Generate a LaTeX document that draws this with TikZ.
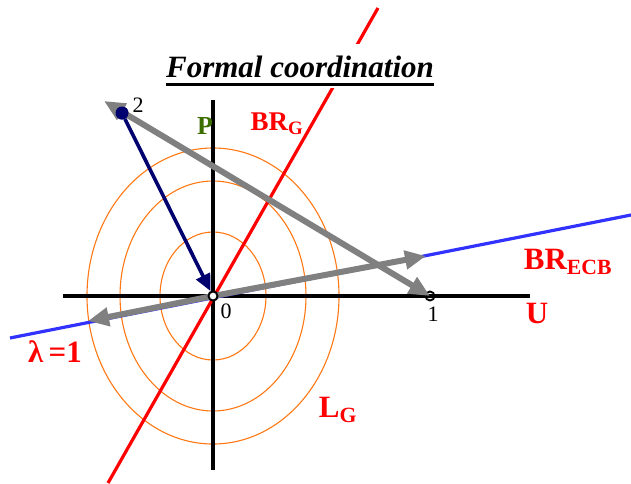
\documentclass[tikz,border=0pt]{standalone}
\usepackage{fontspec}
\setmainfont{Liberation Serif}
\usetikzlibrary{arrows.meta}
\definecolor{navy}{RGB}{0,0,110}
\definecolor{pgreen}{RGB}{60,110,0}
\definecolor{ecbblue}{RGB}{50,50,255}
\definecolor{lorange}{RGB}{255,120,20}
\definecolor{mgray}{RGB}{128,128,128}
\tikzset{>=Stealth,
  axis/.style={line width=3.2pt},
  brline/.style={line width=3.2pt},
  move/.style={line width=6pt,mgray,-{Triangle[length=21pt,width=18pt]}},
  lg/.style={lorange,line width=1.1pt},
  pt/.style={circle,draw,line width=1.9pt,minimum size=9pt,inner sep=0pt},
  lab/.style={font=\fontsize{31}{31}\selectfont\bfseries,text=red},
  num/.style={font=\fontsize{22}{22}\selectfont}}

\begin{document}
\begin{tikzpicture}[x=1pt,y=-1pt]
\useasboundingbox (0,0) rectangle (631,483);
% indifference curves
\coordinate (o) at (213,296);
\draw[lg] (o) ellipse [x radius=53pt,y radius=64pt];
\draw[lg] (o) ellipse [x radius=93pt,y radius=115pt];
\draw[lg] (o) ellipse [x radius=126pt,y radius=148pt];
% axes
\draw[axis] (63,296)--(530,296);
\draw[axis] (213,100)--(213,470);
% reaction functions
\draw[brline,red] (108,483)--(378,8);
\draw[brline,ecbblue] (10,338)--(631,215);
\node[fill=white,inner xsep=3pt,inner ysep=11pt,anchor=base,font=\fontsize{31}{31}\selectfont\bfseries\itshape] (title) at (300,77) {Formal coordination};
\draw[line width=3pt] ([xshift=3pt,yshift=-7pt]title.base west)--([xshift=-3pt,yshift=-7pt]title.base east);
% points
\node[pt] (p0) at (o) {};
\node[pt] (p1) at (430,296) {};
\node[circle,fill=navy,minimum size=13pt,inner sep=0pt] (p2) at (122,113) {};
\coordinate (tip2) at (104,101);
\coordinate (upr) at (426,256);
\coordinate (lwl) at (88,321);
\draw[move,{Triangle[length=21pt,width=18pt]}-{Triangle[length=21pt,width=18pt]}] (tip2)--(p1.center);
\draw[move] (p0.center)--(upr);
\draw[move] (p0.center)--(lwl);
\draw[navy,line width=3.6pt,-{Triangle[length=17pt,width=15pt]}] (p2)--(p0);
\node[pt,fill=white] at (o) {};
\node[circle,fill=navy,minimum size=13pt,inner sep=0pt] at (p2) {};
\node[num] (n0) at (226,311) {0};
\node[num] (n1) at (433,314) {1};
\node[num] (n2) at (138,105) {2};
% labels
\node[font=\fontsize{26}{26}\selectfont\bfseries,text=pgreen] (P) at (205,126) {P};
\node[lab,font=\fontsize{27}{27}\selectfont\bfseries] (brg) at (277,124) {BR\textsubscript{G}};
\node[lab] (brecb) at (568,262) {BR\textsubscript{ECB}};
\node[lab] (U) at (537,313) {U};
\node[lab] (lam) at (55,352) {λ\,=1};
\node[lab] (LG) at (338,410) {L\textsubscript{G}};
\end{tikzpicture}
\end{document}
